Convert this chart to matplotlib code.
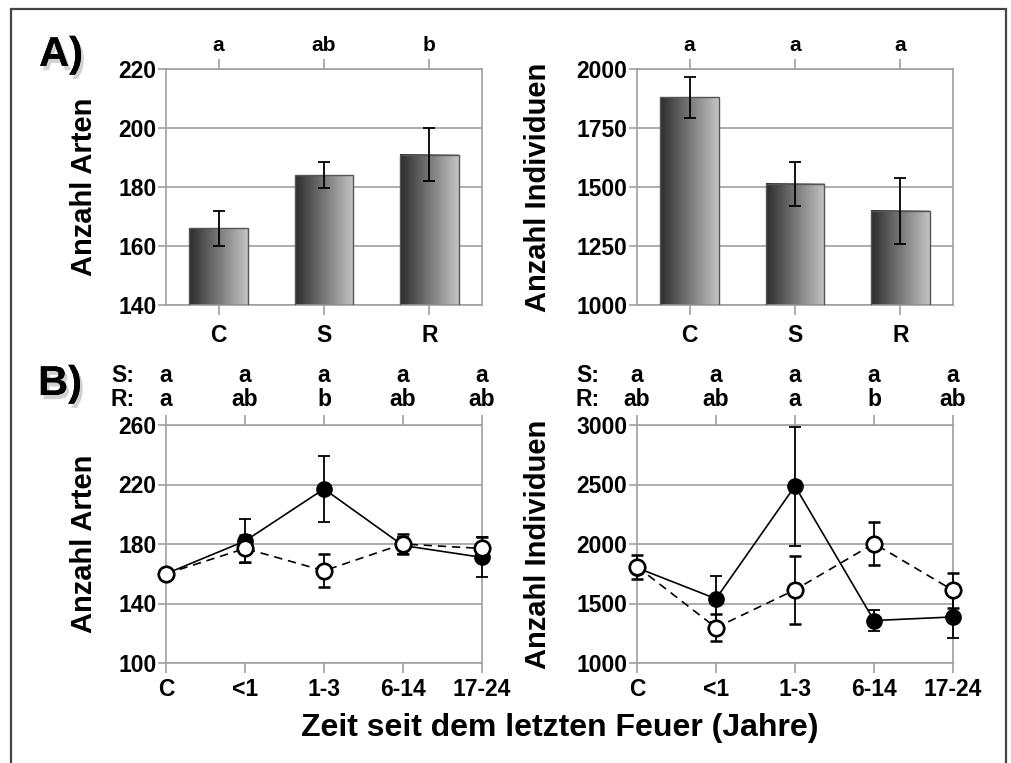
import numpy as np
import matplotlib
matplotlib.use("Agg")
import matplotlib.pyplot as plt
import matplotlib.patheffects as pe
from matplotlib.colors import LinearSegmentedColormap
from matplotlib.patches import Rectangle

plt.rcParams['font.family'] = ['Liberation Sans', 'DejaVu Sans']
plt.rcParams['font.weight'] = 'bold'

# ---- data ----
sites = ["C", "S", "R"]
arten_mean = [166, 184, 191]
arten_err = [6, 4.5, 9]
arten_letters = ["a", "ab", "b"]

indiv_mean = [1880, 1513, 1400]
indiv_err = [88, 92, 140]
indiv_letters = ["a", "a", "a"]

zeit = ["C", "<1", "1-3", "6-14", "17-24"]

# filled circles / solid line (R)
arten_r = [160, 182, 217, 179, 171]
arten_r_err = [0, 14.5, 22, 6, 13.5]
# open circles / dashed line (S)
arten_s = [160, 177, 162, 180, 177]
arten_s_err = [0, 9, 11, 7, 8]
arten_s_letters = ["a", "a", "a", "a", "a"]
arten_r_letters = ["a", "ab", "b", "ab", "ab"]

indiv_r = [1800, 1540, 2487, 1357, 1387]
indiv_r_err = [0, 195, 500, 87, 177]
indiv_s = [1810, 1297, 1615, 2004, 1611]
indiv_s_err = [100, 115, 285, 177, 146]
indiv_s_letters = ["a", "a", "a", "a", "a"]
indiv_r_letters = ["ab", "ab", "a", "b", "ab"]

W, H = 1011, 763
GRID = "#a0a0a0"


def px_axes(fig, x0, y0, x1, y1):
    return fig.add_axes([x0 / W, 1 - y1 / H, (x1 - x0) / W, (y1 - y0) / H])


def style_axes(ax, yticks, ylim):
    ax.set_ylim(*ylim)
    ax.set_yticks(yticks)
    ax.yaxis.grid(True, color=GRID, linewidth=1.2)
    ax.set_axisbelow(True)
    for s in ax.spines.values():
        s.set_color(GRID)
        s.set_linewidth(1.2)
    ax.tick_params(axis="y", direction="out", length=6, width=1.2,
                   color=GRID, labelsize=16.5, pad=1)
    ax.tick_params(axis="x", direction="out", length=7, width=1.2,
                   color=GRID, labelsize=16.5, pad=4, top=True)
    for lab in ax.get_xticklabels() + ax.get_yticklabels():
        lab.set_fontweight("bold")


cmap = LinearSegmentedColormap.from_list("bar", ["#2c2c2c", "#c4c4c4"])
grad = np.linspace(0, 1, 256).reshape(1, -1)


def bar_panel(ax, means, errs, letters, yticks, ylim, ylabel, lab_x):
    x = np.arange(len(means))
    bars = ax.bar(x, np.array(means) - ylim[0], bottom=ylim[0], width=0.56,
                  color="none", edgecolor="#555555", linewidth=1, zorder=3)
    for b in bars:
        x0, y0 = b.get_x(), b.get_y()
        ax.imshow(grad, cmap=cmap, aspect="auto", zorder=2,
                  extent=[x0, x0 + b.get_width(), y0, y0 + b.get_height()])
    ax.errorbar(x, means, yerr=errs, fmt="none", ecolor="black",
                elinewidth=1.3, capsize=4.5, capthick=1.3, zorder=4)
    ax.set_xlim(-0.5, len(means) - 0.5)
    ax.set_xticks(x)
    ax.set_xticklabels(sites)
    style_axes(ax, yticks, ylim)
    ax.tick_params(axis="x", pad=7)
    for xi, l in zip(x, letters):
        ax.text(xi, 1.098, l, transform=ax.get_xaxis_transform(),
                ha="center", va="center", fontsize=15, fontweight="bold")
    ax.set_ylabel(ylabel, fontsize=21, fontweight="bold")
    ax.yaxis.set_label_coords(lab_x, 0.5)


def line_panel(ax, r, r_err, s, s_err, s_let, r_let, yticks, ylim, ylabel,
               lab_x, sr_x):
    x = np.arange(len(zeit))
    ax.errorbar(x, s, yerr=s_err, fmt="o", linestyle=(0, (5, 3.5)),
                color="black", linewidth=1.2, markersize=11,
                markerfacecolor="white", markeredgecolor="black",
                markeredgewidth=1.8, ecolor="black", elinewidth=1.3,
                capsize=4.5, capthick=1.3, zorder=4, clip_on=False)
    ax.errorbar(x, r, yerr=r_err, fmt="o", linestyle="-", color="black",
                linewidth=1.2, markersize=11, markerfacecolor="black",
                markeredgecolor="black", ecolor="black", elinewidth=1.3,
                capsize=4.5, capthick=1.3, zorder=5, clip_on=False)
    # redraw open markers so they sit on top where they overlap
    ax.plot(x, s, "o", markersize=11, markerfacecolor="white",
            markeredgecolor="black", markeredgewidth=1.8, zorder=6,
            clip_on=False)
    ax.set_xlim(0, len(zeit) - 1)
    ax.set_xticks(x)
    ax.set_xticklabels(zeit)
    style_axes(ax, yticks, ylim)
    trans = ax.get_xaxis_transform()
    for xi, ls, lr in zip(x, s_let, r_let):
        ax.text(xi, 1.21, ls, transform=trans, ha="center", va="center",
                fontsize=16.5, fontweight="bold")
        ax.text(xi, 1.109, lr, transform=trans, ha="center", va="center",
                fontsize=16.5, fontweight="bold")
    ax.text(sr_x, 1.21, "S:", transform=ax.transAxes, ha="center",
            va="center", fontsize=16.5, fontweight="bold")
    ax.text(sr_x, 1.109, "R:", transform=ax.transAxes, ha="center",
            va="center", fontsize=16.5, fontweight="bold")
    ax.set_ylabel(ylabel, fontsize=21, fontweight="bold")
    ax.yaxis.set_label_coords(lab_x, 0.5)


fig = plt.figure(figsize=(W / 100, H / 100), dpi=100)

# outer frame
fig.patches.append(Rectangle((11 / W, -0.05), (1006 - 11) / W,
                             1.05 - 9 / H, transform=fig.transFigure,
                             fill=False, edgecolor="#444444", linewidth=1.6))

ax1 = px_axes(fig, 166, 69, 482, 305)
bar_panel(ax1, arten_mean, arten_err, arten_letters, [140, 160, 180, 200, 220],
          (140, 220), "Anzahl Arten", -0.215)

ax2 = px_axes(fig, 637, 69, 953, 305)
bar_panel(ax2, indiv_mean, indiv_err, indiv_letters,
          [1000, 1250, 1500, 1750, 2000], (1000, 2000),
          "Anzahl Individuen", -0.269)

ax3 = px_axes(fig, 166, 425, 482, 663)
line_panel(ax3, arten_r, arten_r_err, arten_s, arten_s_err, arten_s_letters,
           arten_r_letters, [100, 140, 180, 220, 260], (100, 260),
           "Anzahl Arten", -0.215, -0.138)

ax4 = px_axes(fig, 637, 425, 953, 663)
line_panel(ax4, indiv_r, indiv_r_err, indiv_s, indiv_s_err, indiv_s_letters,
           indiv_r_letters, [1000, 1500, 2000, 2500, 3000], (1000, 3000),
           "Anzahl Individuen", -0.269, -0.157)

shadow = [pe.withSimplePatchShadow(offset=(2, -3), shadow_rgbFace="#999999",
                                   alpha=0.45), pe.Normal()]
fig.text(61 / W, 1 - 55 / H, "A)", ha="center", va="center", fontsize=30,
         fontweight="bold", path_effects=shadow)
fig.text(60 / W, 1 - 384 / H, "B)", ha="center", va="center", fontsize=30,
         fontweight="bold", path_effects=shadow)

fig.text(560 / W, 1 - 728 / H, "Zeit seit dem letzten Feuer (Jahre)",
         ha="center", va="center", fontsize=23, fontweight="bold")

fig.savefig("out.png", dpi=100)
